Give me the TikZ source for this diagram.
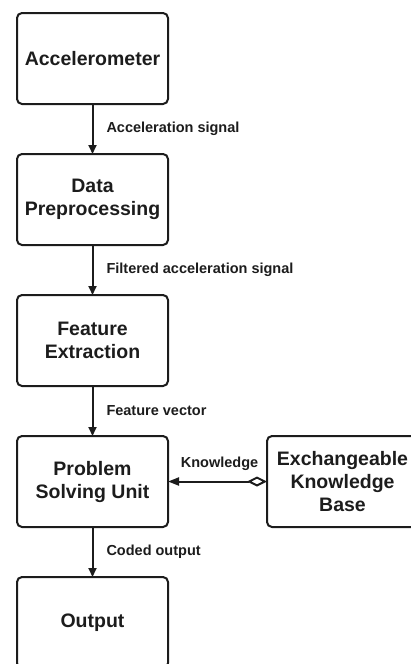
\documentclass[tikz,border=0pt]{standalone}
\usepackage{fontspec}
\setmainfont{Liberation Sans}
\usetikzlibrary{positioning,arrows.meta}
\definecolor{ink}{HTML}{1C1C1C}
\tikzset{
  block/.style={draw=ink, line width=2pt, rounded corners=5pt, outer sep=0pt,
    minimum width=151pt, minimum height=91pt, align=center, text=ink,
    font=\fontsize{19.5}{23}\selectfont\bfseries},
  lbltext/.style={inner sep=0pt, text=ink, font=\fontsize{14.5}{17}\selectfont\bfseries},
  lbl/.style={lbltext, anchor=west, xshift=13pt},
  arr/.style={draw=ink, line width=2pt, -{Triangle[length=9pt,width=8pt]}}
}
\begin{document}
\begin{tikzpicture}[node distance=50pt]
    \useasboundingbox (0,0) rectangle (411pt,-664pt);
    \clip (0,0) rectangle (411pt,-664pt);
    \node[block] (acc) at (92.5pt,-58.5pt) {Accelerometer};
    \node[block] (pre) [below=of acc] {Data\\Preprocessing};
    \node[block] (feat) [below=of pre] {Feature\\Extraction};
    \node[block] (psu) [below=of feat] {Problem\\Solving Unit};
    \node[block] (out) [below=of psu] {Output};
    \node[block] (kb) [right=99pt of psu] {Exchangeable\\Knowledge\\Base};
    \draw[arr] (acc) -- node[lbl] {Acceleration signal} (pre);
    \draw[arr] (pre) -- node[lbl] {Filtered acceleration signal} (feat);
    \draw[arr] (feat) -- node[lbl] {Feature vector} (psu);
    \draw[arr] (psu) -- node[lbl] {Coded output} (out);
    \draw[arr, {Diamond[open,length=20pt,width=10pt]}-{Triangle[length=11pt,width=8pt]}]
        (kb) -- node[lbltext, xshift=2pt, yshift=18pt] {Knowledge} (psu);
\end{tikzpicture}
\end{document}
